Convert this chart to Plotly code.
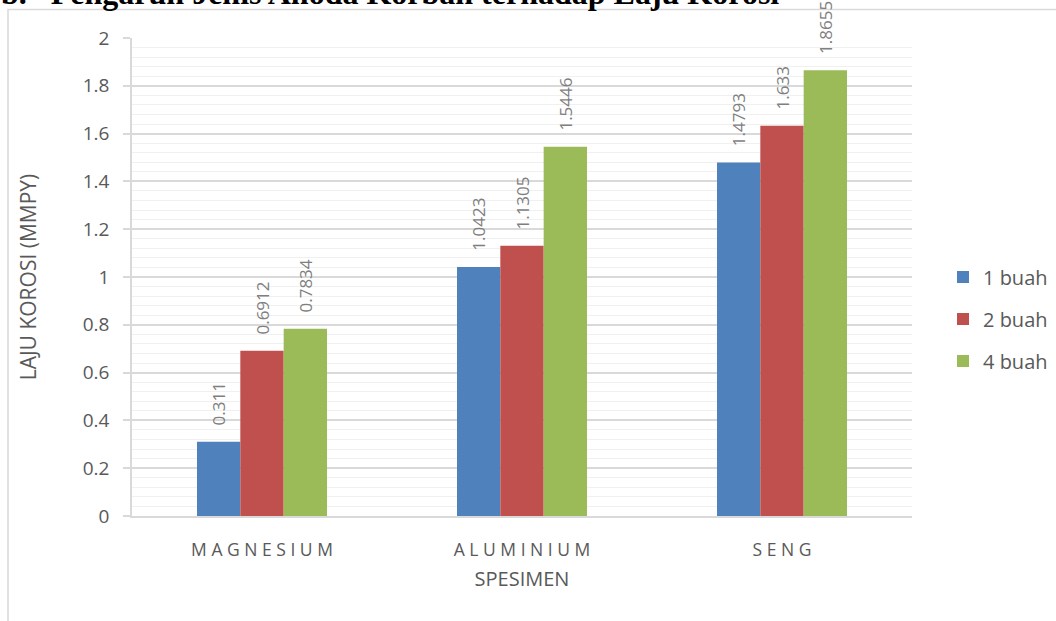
import plotly.graph_objects as go

# Corrosion rate (mmpy) per specimen, grouped by number of sacrificial anodes
categories = ["MAGNESIUM", "ALUMINIUM", "SENG"]
series_names = ["1 buah", "2 buah", "4 buah"]
values_1 = [0.311, 1.0423, 1.4793]
values_2 = [0.6912, 1.1305, 1.633]
values_4 = [0.7834, 1.5446, 1.8655]
y_ticks = [0, 0.2, 0.4, 0.6, 0.8, 1, 1.2, 1.4, 1.6, 1.8, 2]
y_tick_labels = ["0", "0.2", "0.4", "0.6", "0.8", "1", "1.2", "1.4", "1.6", "1.8", "2"]

colors = ["#4f81bd", "#c0504d", "#9bbb59"]
FONT = "'Open Sans', sans-serif"
AXIS_GRAY = "#595959"
LABEL_GRAY = "#7f7f7f"
LINE_GRAY = "#d9d9d9"

# spaced-out category labels
spaced = [" ".join(list(c)) for c in categories]
# a little room between each bar top and its rotated value label
PAD = "\u00a0\u00a0\u00a0"

fig = go.Figure()
for name, vals, col in zip(series_names, [values_1, values_2, values_4], colors):
    fig.add_trace(go.Bar(
        x=categories, y=vals, name=name,
        marker=dict(color=col, line=dict(width=0)),
        text=[PAD + f"{v:g}" for v in vals],
        textposition="outside", textangle=-90,
        textfont=dict(family=FONT, size=17, color=LABEL_GRAY),
        cliponaxis=False, constraintext="none",
        legendgroup=name,
    ))

# plot area geometry in pixels
L, R, T, B = 132, 144, 38, 105
W = 1056 - L - R
H = 621 - T - B

def px_x(px):
    return (px - L) / W

def px_y(py):
    return 1 + (T - py) / H

fig.add_shape(type="rect", xref="paper", yref="paper",
              x0=px_x(8), x1=px_x(1070), y0=px_y(9.5), y1=px_y(640),
              line=dict(color=LINE_GRAY, width=1.5), fillcolor="rgba(0,0,0,0)",
              layer="below")

fig.add_annotation(xref="paper", yref="paper", x=px_x(-1), y=px_y(13),
                   xanchor="left", yanchor="bottom", showarrow=False,
                   text="<b>b.   Pengaruh Jenis Anoda Korban terhadap Laju Korosi</b>",
                   font=dict(family="'Liberation Serif', 'Times New Roman', serif",
                             size=32, color="#000000"))

fig.update_layout(
    width=1056, height=621,
    margin=dict(l=L, r=R, t=T, b=B, autoexpand=False),
    paper_bgcolor="white", plot_bgcolor="white",
    barmode="group", bargap=0.5, bargroupgap=0.0,
    font=dict(family=FONT, color=AXIS_GRAY),
    legend=dict(xref="container", yref="container",
                x=943 / 1056, y=1 - 319 / 621, xanchor="left", yanchor="middle",
                font=dict(family=FONT, size=20, color=AXIS_GRAY),
                tracegroupgap=13, itemwidth=30, bgcolor="rgba(0,0,0,0)"),
    xaxis=dict(
        tickmode="array", tickvals=categories, ticktext=spaced,
        tickfont=dict(family=FONT, size=17.5, color=AXIS_GRAY),
        ticklabelstandoff=17,
        showline=True, linecolor=LINE_GRAY, linewidth=1.5,
        ticks="", showgrid=False,
        title=dict(text="SPESIMEN", font=dict(family=FONT, size=20, color=AXIS_GRAY),
                   standoff=12),
    ),
    yaxis=dict(
        range=[0, 2], tickmode="array", tickvals=y_ticks, ticktext=y_tick_labels,
        tickfont=dict(family=FONT, size=19, color=AXIS_GRAY),
        ticks="outside", ticklen=7, tickcolor=LINE_GRAY, tickwidth=1.5,
        ticklabelstandoff=10,
        showgrid=True, gridcolor=LINE_GRAY, gridwidth=1.5,
        minor=dict(dtick=0.04, showgrid=True, gridcolor="#f0f0f0", gridwidth=1.2, ticks=""),
        showline=True, linecolor=LINE_GRAY, linewidth=1.5,
        zeroline=False,
        title=dict(text="LAJU KOROSI (MMPY)", font=dict(family=FONT, size=21, color=AXIS_GRAY),
                   standoff=40),
    ),
)

fig.write_html("out.html")
